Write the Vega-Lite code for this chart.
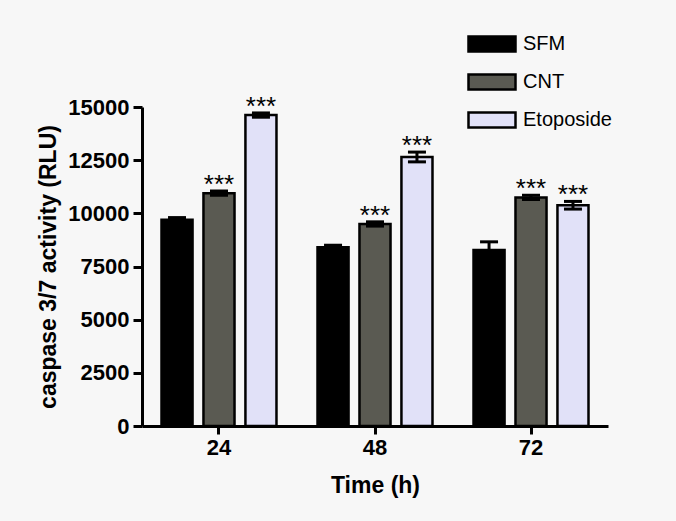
{
  "$schema": "https://vega.github.io/schema/vega-lite/v6.json",
  "autosize": {"type": "none"},
  "width": 466,
  "height": 319,
  "padding": {"left": 142, "top": 107, "right": 68, "bottom": 95},
  "background": "#f7f7f7",
  "config": {
    "view": {"stroke": null},
    "font": "Liberation Sans"
  },
  "data": {
    "values": [
      {"time": "24", "group": "SFM", "value": 9700, "lo": 9600, "hi": 9800, "sig": ""},
      {"time": "24", "group": "CNT", "value": 10950, "lo": 10850, "hi": 11050, "sig": "***"},
      {"time": "24", "group": "Etoposide", "value": 14620, "lo": 14520, "hi": 14720, "sig": "***"},
      {"time": "48", "group": "SFM", "value": 8400, "lo": 8300, "hi": 8500, "sig": ""},
      {"time": "48", "group": "CNT", "value": 9500, "lo": 9400, "hi": 9600, "sig": "***"},
      {"time": "48", "group": "Etoposide", "value": 12650, "lo": 12420, "hi": 12880, "sig": "***"},
      {"time": "72", "group": "SFM", "value": 8270, "lo": 7880, "hi": 8660, "sig": ""},
      {"time": "72", "group": "CNT", "value": 10750, "lo": 10650, "hi": 10850, "sig": "***"},
      {"time": "72", "group": "Etoposide", "value": 10380, "lo": 10200, "hi": 10560, "sig": "***"}
    ]
  },
  "encoding": {
    "x": {
      "field": "time", "type": "ordinal", "sort": ["24", "48", "72"],
      "scale": {"paddingInner": 0.263, "paddingOuter": 0.125},
      "axis": {
        "title": "Time (h)", "titleFont": "Liberation Sans", "titleFontSize": 23, "titleFontWeight": "bold", "titleColor": "#000", "titlePadding": 16,
        "labelAngle": 0, "labelFont": "Liberation Sans", "labelFontSize": 22, "labelFontWeight": "bold", "labelColor": "#000", "labelPadding": 3,
        "domainColor": "#000", "domainWidth": 3, "tickColor": "#000", "tickWidth": 3, "tickSize": 8
      }
    },
    "xOffset": {
      "field": "group", "type": "nominal", "sort": ["SFM", "CNT", "Etoposide"],
      "scale": {"paddingInner": 0.26, "paddingOuter": 0}
    }
  },
  "layer": [
    {
      "mark": {"type": "bar", "stroke": "#000", "strokeWidth": 2.5},
      "encoding": {
        "y": {
          "field": "value", "type": "quantitative",
          "scale": {"domain": [0, 15000], "nice": false},
          "axis": {
            "values": [0, 2500, 5000, 7500, 10000, 12500, 15000], "format": "d", "grid": false,
            "title": "caspase 3/7 activity (RLU)", "titleFont": "Liberation Sans", "titleFontSize": 23, "titleFontWeight": "bold", "titleColor": "#000", "titlePadding": 7,
            "labelFont": "Liberation Sans", "labelFontSize": 22, "labelFontWeight": "bold", "labelColor": "#000", "labelPadding": 4,
            "domainColor": "#000", "domainWidth": 3, "tickColor": "#000", "tickWidth": 3, "tickSize": 9
          }
        },
        "color": {
          "field": "group", "type": "nominal", "sort": ["SFM", "CNT", "Etoposide"],
          "scale": {"domain": ["SFM", "CNT", "Etoposide"], "range": ["#000000", "#5a5a52", "#e1e1f8"]},
          "legend": {
            "title": null, "orient": "none", "legendX": 325, "legendY": -88,
            "symbolType": "M-1,-0.32L1,-0.32L1,0.32L-1,0.32Z", "symbolSize": 2209,
            "symbolStrokeColor": "#000", "symbolStrokeWidth": 2.5, "symbolOpacity": 1,
            "labelFont": "Liberation Sans", "labelFontSize": 20, "labelColor": "#000", "labelOffset": 6,
            "rowPadding": -1
          }
        }
      }
    },
    {
      "mark": {"type": "rule", "stroke": "#000", "strokeWidth": 3},
      "encoding": {
        "y": {"field": "lo", "type": "quantitative"},
        "y2": {"field": "hi"}
      }
    },
    {
      "mark": {"type": "tick", "color": "#000", "size": 18, "thickness": 3, "opacity": 1},
      "encoding": {"y": {"field": "hi", "type": "quantitative"}}
    },
    {
      "mark": {"type": "tick", "color": "#000", "size": 18, "thickness": 3, "opacity": 1},
      "encoding": {"y": {"field": "lo", "type": "quantitative"}}
    },
    {
      "mark": {"type": "text", "font": "Liberation Sans", "fontSize": 26, "color": "#000", "baseline": "alphabetic", "dy": 2},
      "encoding": {
        "y": {"field": "hi", "type": "quantitative"},
        "text": {"field": "sig"}
      }
    }
  ]
}
